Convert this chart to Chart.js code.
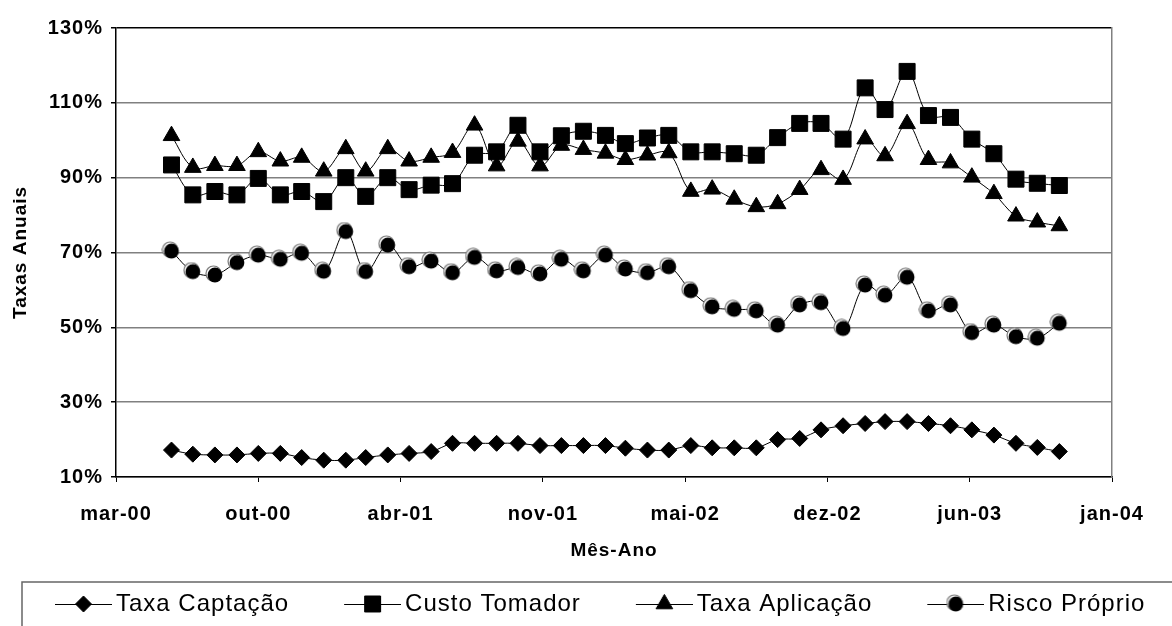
<!DOCTYPE html>
<html>
<head>
<meta charset="utf-8">
<title>Taxas Anuais</title>
<script src="https://cdn.jsdelivr.net/npm/chart.js@4.4.0/dist/chart.umd.min.js"></script>
<style>
  html, body { margin: 0; padding: 0; background: #fff; }
  #quadro { width: 1172px; height: 626px; position: relative; }
</style>
</head>
<body>
<div id="quadro"><canvas id="taxas"></canvas></div>
<script>
// meses observados (um ponto por mês)
const meses = [
  '2000-06', '2000-07', '2000-08', '2000-09', '2000-10', '2000-11', '2000-12',
  '2001-01', '2001-02', '2001-03', '2001-04', '2001-05', '2001-06', '2001-07',
  '2001-08', '2001-09', '2001-10', '2001-11', '2001-12', '2002-01', '2002-02',
  '2002-03', '2002-04', '2002-05', '2002-06', '2002-07', '2002-08', '2002-09',
  '2002-10', '2002-11', '2002-12', '2003-01', '2003-02', '2003-03', '2003-04',
  '2003-05', '2003-06', '2003-07', '2003-08', '2003-09', '2003-10', '2003-11'
];

// taxas anuais em %
const taxaCaptacao = [
  17.2, 16.1, 15.9, 15.9, 16.3, 16.3, 15.2, 14.5, 14.5, 15.2, 15.9, 16.3, 16.8, 19.0,
  19.0, 19.0, 19.0, 18.4, 18.4, 18.4, 18.4, 17.7, 17.2, 17.2, 18.4, 17.8, 17.8, 17.8,
  20.0, 20.3, 22.6, 23.7, 24.3, 24.8, 24.8, 24.3, 23.7, 22.6, 21.2, 19.0, 17.9, 16.8
];
const custoTomador = [
  93.4, 85.4, 86.3, 85.4, 89.8, 85.4, 86.3, 83.6, 90.0, 85.0, 90.0, 86.8, 88.0, 88.4,
  96.0, 96.9, 104.0, 96.9, 101.2, 102.4, 101.3, 99.1, 100.6, 101.3, 96.9, 96.9, 96.4, 96.0,
  100.7, 104.5, 104.5, 100.3, 114.0, 108.2, 118.4, 106.6, 106.1, 100.3, 96.4, 89.6, 88.5, 87.9
];
const taxaAplicacao = [
  101.2, 92.7, 93.2, 93.2, 96.9, 94.4, 95.4, 91.7, 97.7, 91.7, 97.7, 94.4, 95.4, 96.7,
  104.0, 93.1, 99.7, 93.1, 98.6, 97.5, 96.5, 94.8, 96.0, 96.6, 86.3, 86.9, 84.2, 82.2,
  83.0, 86.8, 92.1, 89.5, 100.3, 95.8, 104.4, 94.8, 93.9, 90.1, 85.7, 79.7, 78.1, 77.1
];
const riscoProprio = [
  70.4, 64.9, 64.0, 67.3, 69.3, 68.2, 69.8, 65.0, 75.6, 64.9, 72.0, 66.2, 67.7, 64.6,
  68.7, 65.1, 66.0, 64.3, 68.2, 65.1, 69.3, 65.6, 64.6, 66.2, 59.8, 55.5, 54.8, 54.4,
  50.6, 56.0, 56.6, 49.7, 61.3, 58.6, 63.4, 54.4, 56.0, 48.6, 50.6, 47.5, 47.1, 51.1
];

// rótulos do eixo de datas (marcas a cada 200 dias a partir de 15/03/2000)
const rotulosX = ['mar-00', 'out-00', 'abr-01', 'nov-01', 'mai-02', 'dez-02', 'jun-03', 'jan-04'];
const INICIO_EIXO = Date.UTC(2000, 2, 15);
const PASSO_DIAS = 200;
const DIA = 86400000;

const FONTE = "'Liberation Sans', Arial, Helvetica, sans-serif";

function diasDesdeInicio(mes) {
  const [ano, m] = mes.split('-').map(Number);
  return (Date.UTC(ano, m - 1, 1) - INICIO_EIXO) / DIA;
}

function pontos(valores) {
  return valores.map((v, i) => ({ x: diasDesdeInicio(meses[i]), y: v }));
}

// círculo preto com o anel claro deslocado, como no marcador do Excel
function marcadorCirculo() {
  const c = document.createElement('canvas');
  c.width = 20; c.height = 20;
  const g = c.getContext('2d');
  g.beginPath();
  g.arc(8.6, 8.6, 7.6, 0, Math.PI * 2);
  g.fillStyle = '#fff';
  g.fill();
  g.strokeStyle = '#777';
  g.lineWidth = 1.2;
  g.stroke();
  g.beginPath();
  g.arc(10, 10, 7.4, 0, Math.PI * 2);
  g.fillStyle = '#000';
  g.fill();
  return c;
}

const circulo = marcadorCirculo();

const estilos = [
  { label: 'Taxa Captação', dados: taxaCaptacao, estilo: 'rectRot', raio: 8 },
  { label: 'Custo Tomador', dados: custoTomador, estilo: 'rect', raio: 11.3 },
  { label: 'Taxa Aplicação', dados: taxaAplicacao, estilo: 'triangle', raio: 9.6 },
  { label: 'Risco Próprio', dados: riscoProprio, estilo: circulo, raio: 8 }
];

// amostra da legenda: linha com o marcador no meio, com folga à esquerda
const LARG_AMOSTRA = 114;
const LARG_LINHA = 57;
function amostraLegenda(estilo, raio) {
  const c = document.createElement('canvas');
  c.width = LARG_AMOSTRA; c.height = 24;
  const g = c.getContext('2d');
  const x0 = LARG_AMOSTRA - LARG_LINHA;
  g.strokeStyle = '#000';
  g.lineWidth = 1;
  g.beginPath();
  g.moveTo(x0, 12.5);
  g.lineTo(LARG_AMOSTRA, 12.5);
  g.stroke();
  const cx = x0 + LARG_LINHA / 2;
  if (typeof estilo === 'string') {
    g.fillStyle = '#000';
    Chart.helpers.drawPoint(g, { pointStyle: estilo, radius: raio, borderWidth: 1, rotation: 0 }, cx, 12);
  } else {
    g.drawImage(estilo, cx - estilo.width / 2, 12 - estilo.height / 2);
  }
  return c;
}

const amostras = estilos.map(e => amostraLegenda(e.estilo, e.raio));

const espacamento = {
  id: 'espacamento',
  beforeUpdate(chart) { chart.ctx.letterSpacing = '1px'; },
  beforeDraw(chart) { chart.ctx.letterSpacing = '1px'; },
  afterDraw(chart) {
    // moldura da legenda
    const { ctx, legend } = chart;
    ctx.save();
    ctx.strokeStyle = '#666';
    ctx.lineWidth = 1.5;
    ctx.strokeRect(legend.left + 22, legend.top - 4, chart.width, legend.height + 20);
    ctx.restore();
  }
};

Chart.defaults.font.family = FONTE;
Chart.defaults.color = '#000';

new Chart(document.getElementById('taxas'), {
  type: 'line',
  data: {
    datasets: estilos.map(e => ({
      label: e.label,
      data: pontos(e.dados),
      borderColor: '#000',
      borderWidth: 1,
      tension: 0.35,
      pointStyle: e.estilo,
      pointRadius: e.raio,
      pointBackgroundColor: '#000',
      pointBorderColor: '#000',
      pointBorderWidth: 1,
      fill: false
    }))
  },
  options: {
    responsive: true,
    maintainAspectRatio: false,
    animation: false,
    events: [],
    layout: { padding: { top: 28, left: 0, right: 0, bottom: 0 } },
    scales: {
      x: {
        type: 'linear',
        min: 0,
        max: PASSO_DIAS * (rotulosX.length - 1),
        afterFit(s) { s.height = 109; },
        grid: { drawOnChartArea: false, drawTicks: true, tickLength: 5, tickColor: '#000' },
        border: { color: '#000', width: 1.5 },
        ticks: {
          stepSize: PASSO_DIAS,
          autoSkip: false,
          maxRotation: 0,
          padding: 20,
          font: { size: 20, weight: 'bold' },
          callback: v => rotulosX[Math.round(v / PASSO_DIAS)]
        },
        title: {
          display: true,
          text: 'Mês-Ano',
          font: { size: 19, weight: 'bold' },
          padding: { top: 0, bottom: 24 }
        }
      },
      y: {
        position: 'left',
        min: 10,
        max: 130,
        afterFit(s) { s.width = 116; },
        grid: {
          color: c => (c.tick && c.tick.value === 130 ? '#000' : '#808080'),
          lineWidth: 1.5,
          tickLength: 5,
          tickColor: '#000'
        },
        border: { color: '#000', width: 1.5 },
        ticks: {
          stepSize: 20,
          padding: 8,
          font: { size: 20, weight: 'bold' },
          callback: v => v + '%'
        },
        title: {
          display: true,
          text: 'Taxas Anuais',
          font: { size: 19, weight: 'bold' },
          padding: { top: 9, bottom: 0 }
        }
      },
      direita: {
        position: 'right',
        min: 10,
        max: 130,
        afterFit(s) { s.width = 60; },
        grid: { display: false },
        ticks: { display: false },
        border: { color: '#808080', width: 1.5 }
      }
    },
    plugins: {
      tooltip: { enabled: false },
      legend: {
        position: 'bottom',
        align: 'start',
        labels: {
          usePointStyle: true,
          pointStyleWidth: LARG_AMOSTRA - 16,
          padding: 6,
          color: '#000',
          font: { size: 24 },
          generateLabels: chart => chart.data.datasets.map((ds, i) => ({
            text: ds.label,
            datasetIndex: i,
            pointStyle: amostras[i],
            fillStyle: '#000',
            strokeStyle: '#000',
            lineWidth: 0,
            hidden: false
          }))
        }
      }
    }
  },
  plugins: [espacamento]
});
</script>
</body>
</html>
